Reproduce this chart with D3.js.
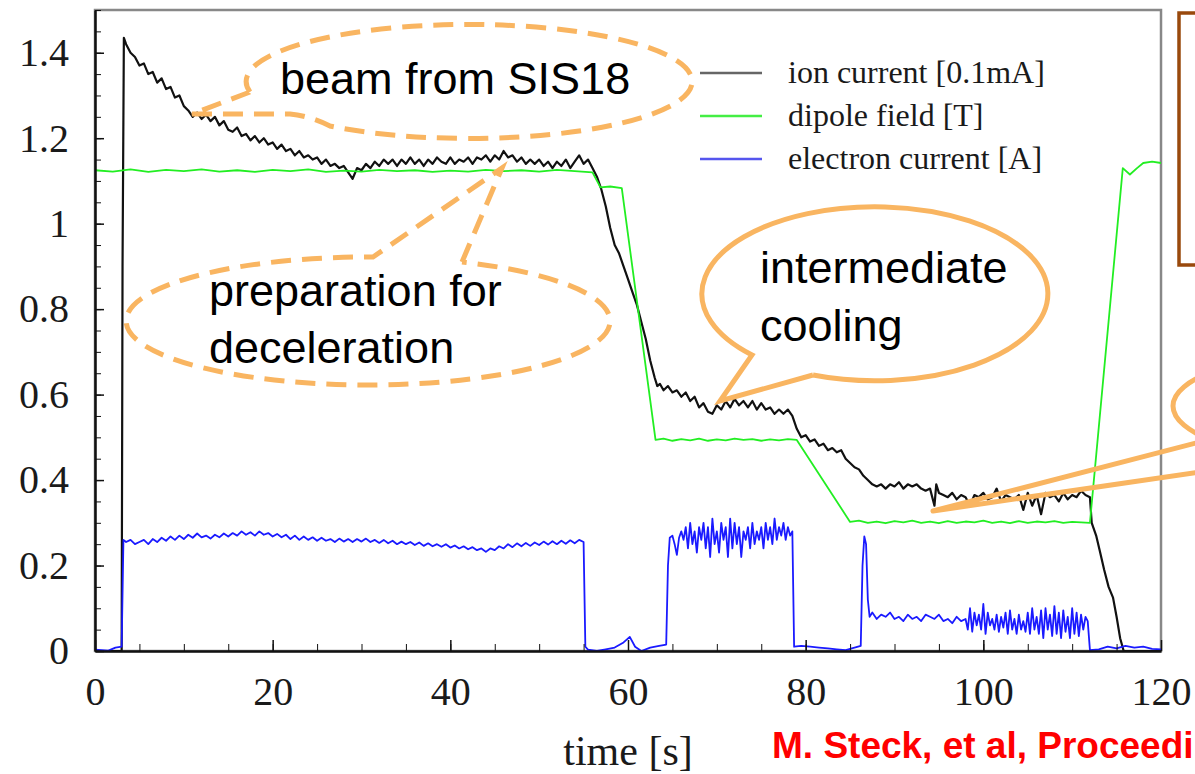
<!DOCTYPE html>
<html>
<head>
<meta charset="utf-8">
<script src="https://cdn.jsdelivr.net/npm/d3@7"></script>
<style>
  body { margin: 0; background: #fff; }
  svg { display: block; }
  .tick text { font-family: 'Liberation Serif', 'Times New Roman', serif; font-size: 40px; fill: #1a1a1a; }
  .axis path, .axis line { stroke: #111; }
</style>
</head>
<body>
<div id="container"></div>
<script>
// time [s], value
let ionCurrent = [
  [0, 0], [3.0, 0], [3.1, 0.9], [3.25, 1.435],
  [3.5, 1.42], [4.0, 1.40], [4.5, 1.39], [5.0, 1.37], [5.5, 1.375], [6.0, 1.35], [6.5, 1.355], [7.0, 1.33], [7.5, 1.34], [8.0, 1.315],
  [8.5, 1.32], [9.0, 1.295], [9.5, 1.30], [10.0, 1.275], [10.5, 1.265], [11.0, 1.25], [11.5, 1.26], [12.0, 1.245], [12.5, 1.255], [13.0, 1.24],
  [13.5, 1.25], [14.0, 1.23], [14.5, 1.24], [15.0, 1.22], [15.5, 1.215], [16.0, 1.225], [16.5, 1.205], [17.0, 1.21], [17.5, 1.195], [18.0, 1.205],
  [18.5, 1.19], [19.0, 1.20], [19.5, 1.185], [20.0, 1.19], [20.5, 1.175], [21.0, 1.185], [21.5, 1.17], [22.0, 1.175], [22.5, 1.16], [23.0, 1.17],
  [23.5, 1.155], [24.0, 1.16], [24.5, 1.15], [25.0, 1.155], [25.5, 1.14], [26.0, 1.15], [26.5, 1.135], [27.0, 1.14], [27.5, 1.13], [28.0, 1.135],
  [28.5, 1.12], [29.0, 1.105], [29.5, 1.13], [30.0, 1.125], [30.5, 1.14], [31.0, 1.13], [31.5, 1.145], [32.0, 1.135], [32.5, 1.15], [33.0, 1.14],
  [33.5, 1.15], [34.0, 1.135], [34.5, 1.15], [35.0, 1.14], [35.5, 1.155], [36.0, 1.14], [36.5, 1.15], [37.0, 1.135], [37.5, 1.15], [38.0, 1.14],
  [38.5, 1.155], [39.0, 1.145], [39.5, 1.14], [40.0, 1.155], [40.5, 1.14], [41.0, 1.15], [41.5, 1.145], [42.0, 1.155], [42.5, 1.14], [43.0, 1.155],
  [43.5, 1.15], [44.0, 1.16], [44.5, 1.145], [45.0, 1.16], [45.5, 1.15], [46.0, 1.17], [46.5, 1.155], [47.0, 1.16], [47.5, 1.145], [48.0, 1.155],
  [48.5, 1.14], [49.0, 1.15], [49.5, 1.14], [50.0, 1.15], [50.5, 1.135], [51.0, 1.145], [51.5, 1.13], [52.0, 1.145], [52.5, 1.135], [53.0, 1.15],
  [53.5, 1.13], [54.0, 1.145], [54.5, 1.16], [55.0, 1.14], [55.5, 1.15], [56.0, 1.13],
  [56.5, 1.11], [57.0, 1.08], [57.5, 1.04], [58.0, 0.99], [58.5, 0.95], [59.0, 0.93], [59.5, 0.90], [60.0, 0.87], [60.5, 0.84], [61.0, 0.81],
  [61.5, 0.77], [62.0, 0.73], [62.5, 0.68], [63.0, 0.64], [63.3, 0.62], [63.6, 0.625],
  [64.0, 0.61], [64.5, 0.62], [65.0, 0.605], [65.5, 0.61], [66.0, 0.595], [66.5, 0.605], [67.0, 0.585], [67.5, 0.595], [68.0, 0.57], [68.5, 0.58],
  [69.0, 0.56], [69.5, 0.555], [70.0, 0.575], [70.5, 0.565], [71.0, 0.585], [71.5, 0.57], [72.0, 0.59], [72.5, 0.575], [73.0, 0.585], [73.5, 0.57],
  [74.0, 0.585], [74.5, 0.565], [75.0, 0.58], [75.5, 0.565], [76.0, 0.57], [76.5, 0.555], [77.0, 0.565], [77.5, 0.555], [78.0, 0.565], [78.5, 0.55],
  [79.0, 0.52], [79.5, 0.50], [80.0, 0.505], [80.5, 0.49], [81.0, 0.495], [81.5, 0.48], [82.0, 0.485], [82.5, 0.47], [83.0, 0.475], [83.5, 0.465],
  [84.0, 0.47], [84.5, 0.45], [85.0, 0.44], [85.5, 0.43], [86.0, 0.425], [86.5, 0.41], [87.0, 0.40], [87.5, 0.39], [88.0, 0.385], [88.5, 0.39],
  [89.0, 0.38], [89.5, 0.39], [90.0, 0.385], [90.5, 0.395], [91.0, 0.38], [91.5, 0.39], [92.0, 0.385], [92.5, 0.39], [93.0, 0.38], [93.5, 0.375],
  [94.0, 0.38], [94.5, 0.34], [94.7, 0.39], [95.0, 0.37], [95.5, 0.365], [96.0, 0.36], [96.5, 0.37], [97.0, 0.355], [97.5, 0.365], [98.0, 0.36],
  [98.5, 0.34], [99.0, 0.365], [99.5, 0.36], [100.0, 0.37], [100.5, 0.355], [101.0, 0.36], [101.5, 0.38], [102.0, 0.35], [102.5, 0.365], [103.0, 0.36],
  [103.5, 0.355], [104.0, 0.365], [104.5, 0.33], [105.0, 0.37], [105.5, 0.34], [106.0, 0.365], [106.5, 0.32], [107.0, 0.37], [107.5, 0.36], [108.0, 0.365],
  [108.5, 0.35], [109.0, 0.37], [109.5, 0.355], [110.0, 0.365], [110.5, 0.36], [111.0, 0.375], [111.5, 0.365], [112.0, 0.36],
  [112.2, 0.30], [112.7, 0.27], [113.1, 0.235], [113.6, 0.19], [114.1, 0.15], [114.6, 0.125], [115.0, 0.08], [115.4, 0.03], [115.8, 0], [120, 0]
]

let dipoleField = [
  [0, 1.125], [2, 1.122], [4, 1.127], [6, 1.121], [8, 1.126], [10, 1.123], [12, 1.127], [14, 1.122], [16, 1.125], [18, 1.121],
  [20, 1.126], [22, 1.123], [24, 1.127], [26, 1.121], [28, 1.124], [30, 1.122], [32, 1.126], [34, 1.123], [36, 1.125], [38, 1.121],
  [40, 1.124], [42, 1.122], [44, 1.126], [46, 1.123], [48, 1.125], [50, 1.122], [52, 1.126], [54, 1.123], [56, 1.12],
  [56.9, 1.085], [58, 1.087], [59.3, 1.083], [63.1, 0.494],
  [64, 0.497], [65, 0.492], [66, 0.496], [67, 0.493], [68, 0.497], [69, 0.492], [70, 0.495], [71, 0.493], [72, 0.497], [73, 0.494],
  [74, 0.496], [75, 0.492], [76, 0.495], [77, 0.493], [78, 0.496], [79, 0.494],
  [85, 0.302], [86, 0.305], [87, 0.300], [88, 0.303], [89, 0.299], [90, 0.304], [91, 0.301], [92, 0.305], [93, 0.300], [94, 0.303],
  [95, 0.299], [96, 0.304], [97, 0.300], [98, 0.303], [99, 0.301], [100, 0.305], [101, 0.300], [102, 0.303], [103, 0.299], [104, 0.304],
  [105, 0.300], [106, 0.303], [107, 0.301], [108, 0.304], [109, 0.300], [110, 0.302], [111, 0.301], [112, 0.30],
  [115.7, 1.13], [116.5, 1.115], [117.3, 1.13], [118, 1.142], [119, 1.145], [120, 1.142]
]

let electronCurrent = [
  [0, 0.003], [1.5, 0.001], [2.3, 0.008], [3.0, 0.01], [3.2, 0.26],
  [3.5, 0.255], [4.0, 0.26], [4.5, 0.25], [5.0, 0.255], [5.5, 0.26], [6.0, 0.25], [6.5, 0.262], [7.0, 0.255], [7.5, 0.265], [8.0, 0.258],
  [8.5, 0.268], [9.0, 0.26], [9.5, 0.27], [10.0, 0.262], [10.5, 0.272], [11.0, 0.265], [11.5, 0.275], [12.0, 0.266], [12.5, 0.27], [13.0, 0.263],
  [13.5, 0.272], [14.0, 0.266], [14.5, 0.275], [15.0, 0.268], [15.5, 0.276], [16.0, 0.27], [16.5, 0.28], [17.0, 0.272], [17.5, 0.278], [18.0, 0.27],
  [18.5, 0.28], [19.0, 0.272], [19.5, 0.276], [20.0, 0.268], [20.5, 0.274], [21.0, 0.266], [21.5, 0.272], [22.0, 0.262], [22.5, 0.27], [23.0, 0.26],
  [23.5, 0.268], [24.0, 0.26], [24.5, 0.266], [25.0, 0.258], [25.5, 0.265], [26.0, 0.258], [26.5, 0.262], [27.0, 0.255], [27.5, 0.263], [28.0, 0.256],
  [28.5, 0.262], [29.0, 0.255], [29.5, 0.262], [30.0, 0.256], [30.5, 0.263], [31.0, 0.255], [31.5, 0.26], [32.0, 0.253], [32.5, 0.26], [33.0, 0.252],
  [33.5, 0.258], [34.0, 0.25], [34.5, 0.256], [35.0, 0.25], [35.5, 0.255], [36.0, 0.248], [36.5, 0.254], [37.0, 0.246], [37.5, 0.252], [38.0, 0.245],
  [38.5, 0.25], [39.0, 0.244], [39.5, 0.25], [40.0, 0.242], [40.5, 0.247], [41.0, 0.24], [41.5, 0.245], [42.0, 0.238], [42.5, 0.243], [43.0, 0.236],
  [43.5, 0.24], [44.0, 0.232], [44.5, 0.24], [45.0, 0.236], [45.5, 0.245], [46.0, 0.24], [46.5, 0.25], [47.0, 0.243], [47.5, 0.252], [48.0, 0.245],
  [48.5, 0.253], [49.0, 0.246], [49.5, 0.254], [50.0, 0.248], [50.5, 0.256], [51.0, 0.249], [51.5, 0.257], [52.0, 0.25], [52.5, 0.258], [53.0, 0.251],
  [53.5, 0.259], [54.0, 0.252], [54.5, 0.26], [55.0, 0.255], [55.2, 0.01],
  [55.5, 0.003], [56.5, 0], [57.5, 0.004], [58.5, 0.008], [59.5, 0.02], [60.2, 0.033], [60.8, 0.01], [61.5, 0], [62.5, 0.008], [63.5, 0.012],
  [64.3, 0.015], [64.5, 0.2], [64.7, 0.265], [65.0, 0.27], [65.25, 0.25], [65.5, 0.225], [65.75, 0.265], [66.0, 0.28], [66.25, 0.26], [66.5, 0.29],
  [66.75, 0.24], [67.0, 0.30], [67.25, 0.25], [67.5, 0.28], [67.75, 0.23], [68.0, 0.29], [68.25, 0.26], [68.5, 0.30], [68.75, 0.24], [69.0, 0.29],
  [69.25, 0.22], [69.5, 0.31], [69.75, 0.25], [70.0, 0.28], [70.25, 0.23], [70.5, 0.30], [70.75, 0.26], [71.0, 0.29], [71.25, 0.22], [71.5, 0.31],
  [71.75, 0.24], [72.0, 0.30], [72.25, 0.25], [72.5, 0.29], [72.75, 0.22], [73.0, 0.28], [73.25, 0.26], [73.5, 0.29], [73.75, 0.24], [74.0, 0.30],
  [74.25, 0.25], [74.5, 0.28], [74.75, 0.26], [75.0, 0.29], [75.25, 0.24], [75.5, 0.30], [75.75, 0.26], [76.0, 0.29], [76.25, 0.25], [76.5, 0.31],
  [76.75, 0.26], [77.0, 0.29], [77.25, 0.27], [77.5, 0.30], [77.75, 0.26], [78.0, 0.29], [78.25, 0.27], [78.5, 0.28], [78.7, 0.01],
  [79.5, 0.012], [80.5, 0.01], [81.5, 0.008], [82.5, 0.006], [83.5, 0.004], [84.5, 0.002], [85.5, 0.008], [86.2, 0.012],
  [86.4, 0.2], [86.6, 0.268], [86.8, 0.25], [87.0, 0.12], [87.2, 0.08], [87.5, 0.09], [88.0, 0.075], [88.5, 0.085], [89.0, 0.08], [89.5, 0.09],
  [90.0, 0.075], [90.5, 0.08], [91.0, 0.07], [91.5, 0.085], [92.0, 0.075], [92.5, 0.08], [93.0, 0.07], [93.5, 0.085], [94.0, 0.08], [94.5, 0.075],
  [95.0, 0.085], [95.5, 0.07], [96.0, 0.075], [96.5, 0.065], [97.0, 0.08], [97.5, 0.07], [98.0, 0.075], [98.25, 0.05], [98.5, 0.10], [98.75, 0.045],
  [99.0, 0.09], [99.25, 0.06], [99.5, 0.085], [99.75, 0.05], [100.0, 0.11], [100.25, 0.04], [100.5, 0.09], [100.75, 0.06], [101.0, 0.075], [101.25, 0.05],
  [101.5, 0.085], [101.75, 0.045], [102.0, 0.08], [102.25, 0.055], [102.5, 0.09], [102.75, 0.04], [103.0, 0.095], [103.25, 0.05], [103.5, 0.075], [103.75, 0.04],
  [104.0, 0.085], [104.25, 0.05], [104.5, 0.07], [104.75, 0.045], [105.0, 0.09], [105.25, 0.04], [105.5, 0.10], [105.75, 0.05], [106.0, 0.08], [106.25, 0.04],
  [106.5, 0.095], [106.75, 0.03], [107.0, 0.10], [107.25, 0.05], [107.5, 0.085], [107.75, 0.035], [108.0, 0.105], [108.25, 0.04], [108.5, 0.09], [108.75, 0.03],
  [109.0, 0.095], [109.25, 0.045], [109.5, 0.08], [109.75, 0.03], [110.0, 0.10], [110.25, 0.04], [110.5, 0.09], [110.75, 0.035], [111.0, 0.085], [111.25, 0.05],
  [111.5, 0.08], [111.75, 0.07], [112.0, 0.002],
  [113, 0.004], [114, 0.01], [115, 0.006], [116, 0.012], [117, 0.008], [118, 0.01], [119, 0.005], [120, 0.004]
]

let seriesNames = ['ion current [0.1mA]', 'dipole field [T]', 'electron current [A]']
let seriesColors = ['#111', '#22ee22', '#1a1aff']
let legendColors = ['#666', '#44ee44', '#5555ee']
let xTicks = [0, 20, 40, 60, 80, 100, 120]
let yTicks = [0, 0.2, 0.4, 0.6, 0.8, 1, 1.2, 1.4]

let width = 1195,
  height = 774

let xScale = d3.scaleLinear().domain([0, 120]).range([95, 1161]),
  yScale = d3.scaleLinear().domain([0, 1.5]).range([651, 10])

let svg = d3.select('#container')
  .append('svg')
  .attr('width', width)
  .attr('height', height)

// plot frame
svg.append('rect')
  .attr('x', xScale(0))
  .attr('y', yScale(1.5))
  .attr('width', xScale(120) - xScale(0))
  .attr('height', yScale(0) - yScale(1.5))
  .attr('fill', 'none')
  .attr('stroke', '#888')
  .attr('stroke-width', 2.5)

let line = d3.line()
  .x(d => xScale(d[0]))
  .y(d => yScale(d[1]))

let allSeries = [ionCurrent, dipoleField, electronCurrent]
svg.append('g')
  .selectAll('path')
  .data(allSeries)
  .join('path')
  .attr('d', d => line(d))
  .attr('fill', 'none')
  .attr('stroke', (d, i) => seriesColors[i])
  .attr('stroke-width', (d, i) => i === 0 ? 2.2 : 1.8)
  .attr('stroke-linejoin', 'round')

// axes, ticks pointing inward
let xMinor = d3.range(0, 121, 5)
let yMinor = d3.range(0, 1.501, 0.05)

svg.append('g')
  .attr('class', 'axis')
  .attr('transform', 'translate(0, ' + yScale(0) + ')')
  .call(d3.axisBottom(xScale).tickValues(xMinor).tickSize(-7).tickFormat(''))
  .call(g => g.select('.domain').remove())
svg.append('g')
  .attr('class', 'axis')
  .attr('transform', 'translate(' + xScale(0) + ', 0)')
  .call(d3.axisLeft(yScale).tickValues(yMinor).tickSize(-6).tickFormat(''))
  .call(g => g.select('.domain').remove())

let xAxis = svg.append('g')
  .attr('class', 'axis')
  .attr('transform', 'translate(0, ' + yScale(0) + ')')
  .call(d3.axisBottom(xScale).tickValues(xTicks).tickSize(-11).tickSizeOuter(0).tickFormat(d3.format('d')))
xAxis.selectAll('text').attr('y', 54).attr('dy', 0)
xAxis.select('.domain').attr('stroke-width', 2.5)
xAxis.selectAll('line').attr('stroke-width', 1.5)

let yAxis = svg.append('g')
  .attr('class', 'axis')
  .attr('transform', 'translate(' + xScale(0) + ', 0)')
  .call(d3.axisLeft(yScale).tickValues(yTicks).tickSize(-9).tickSizeOuter(0).tickPadding(26).tickFormat(d => d3.format('')(+d.toFixed(1))))
yAxis.select('.domain').attr('stroke-width', 2.5)
yAxis.selectAll('line').attr('stroke-width', 1.5)

svg.append('text')
  .text('time [s]')
  .attr('x', (xScale(0) + xScale(120)) / 2)
  .attr('y', 765)
  .attr('text-anchor', 'middle')
  .attr('font-family', "'Liberation Serif', 'Times New Roman', serif")
  .attr('font-size', 42)
  .attr('fill', '#1a1a1a')

// legend
let legend = svg.append('g')
  .selectAll('g')
  .data(seriesNames)
  .join('g')
  .attr('transform', (d, i) => 'translate(700, ' + (73 + i * 43) + ')')
legend.append('line')
  .attr('x1', 0).attr('x2', 62)
  .attr('stroke', (d, i) => legendColors[i])
  .attr('stroke-width', 2.5)
legend.append('text')
  .text(d => d)
  .attr('x', 88)
  .attr('y', 10)
  .attr('font-family', "'Liberation Serif', 'Times New Roman', serif")
  .attr('font-size', 32)
  .attr('fill', '#1a1a1a')

// annotations
let orange = '#f9b561'
let ann = svg.append('g')
  .attr('fill', 'none')
  .attr('stroke', orange)
  .attr('stroke-width', 5)

ann.append('path')
  .attr('d', 'M 250 92 L 192 114 L 290 114 Q 310 116 330 126 A 223 57 0 1 0 250 92')
  .attr('stroke-dasharray', '20 11')
ann.append('path')
  .attr('d', 'M 462 262 L 502 168 L 373 257 A 242 64 0 1 0 462 262')
  .attr('stroke-dasharray', '20 11')
ann.append('path')
  .attr('d', 'M 813 375 L 720 401 L 752 355 A 173 87 0 1 1 813 375')
  .attr('fill', '#fff')
ann.append('ellipse')
  .attr('cx', 1330).attr('cy', 406).attr('rx', 157).attr('ry', 52)
ann.append('path')
  .attr('d', 'M 1200 442 L 933 511 L 1200 472')
  .attr('stroke-linejoin', 'round')

let labels = [
  { text: 'beam from SIS18', x: 280, y: 94 },
  { text: 'preparation for', x: 209, y: 306 },
  { text: 'deceleration', x: 209, y: 363 },
  { text: 'intermediate', x: 760, y: 283 },
  { text: 'cooling', x: 760, y: 341 }
]
svg.append('g')
  .selectAll('text')
  .data(labels)
  .join('text')
  .text(d => d.text)
  .attr('x', d => d.x)
  .attr('y', d => d.y)
  .attr('font-family', "'Liberation Sans', Arial, sans-serif")
  .attr('font-size', 45)
  .attr('fill', '#000')

// box at top right
svg.append('rect')
  .attr('x', 1179).attr('y', 13)
  .attr('width', 60).attr('height', 252)
  .attr('fill', 'none')
  .attr('stroke', '#99490c')
  .attr('stroke-width', 3.5)

svg.append('text')
  .text('M. Steck, et al, Proceedings')
  .attr('x', 772)
  .attr('y', 758)
  .attr('font-family', "'Liberation Sans', Arial, sans-serif")
  .attr('font-weight', 'bold')
  .attr('font-size', 37)
  .attr('fill', '#ff0000')
</script>
</body>
</html>
